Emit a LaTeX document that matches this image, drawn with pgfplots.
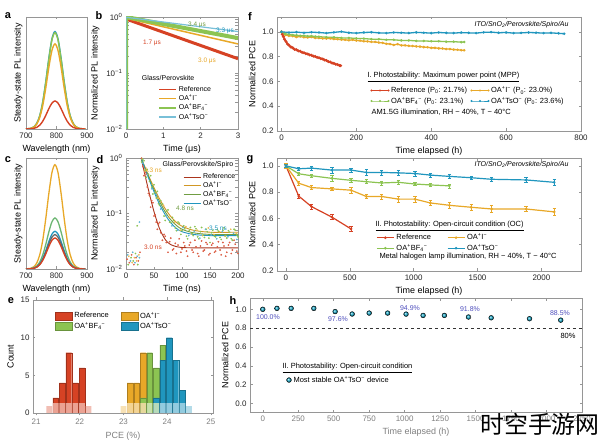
\documentclass[border=0pt]{standalone}
\usepackage{fontspec}
\setmainfont{Liberation Sans}
\newfontfamily\cjk{Noto Sans CJK SC}
\usepackage{pgfplots}
\pgfplotsset{compat=1.18}
\definecolor{cref}{RGB}{214,66,36}
\definecolor{coai}{RGB}{232,168,40}
\definecolor{cbf}{RGB}{140,196,82}
\definecolor{ctso}{RGB}{32,150,190}
\definecolor{axgray}{RGB}{150,150,150}
\definecolor{pctblue}{RGB}{80,80,190}
\newcommand\fs[1]{\fontsize{#1}{#1}\selectfont}
\newcommand\OAI{OA\textsuperscript{+}I\textsuperscript{−}}
\newcommand\OABF{OA\textsuperscript{+}BF\textsubscript{4}\textsuperscript{−}}
\newcommand\OATsO{OA\textsuperscript{+}TsO\textsuperscript{−}}
\pgfplotsset{
 base/.style={scale only axis, anchor=south west,
  axis line style={axgray, line width=0.6bp},
  tick style={axgray, line width=0.5bp}, major tick length=2.5bp, tick align=inside,
  tick label style={font=\fs{8}, text=black!85},
  label style={font=\fs{9}},
  /pgf/number format/assume math mode=true, /pgf/number format/1000 sep={},
  legend cell align=left},
 pce/.style={ytick={0.2,0.4,0.6,0.8,1.0}, yticklabel style={/pgf/number format/.cd, fixed, fixed zerofill, precision=1}},
}
\begin{document}
\begin{tikzpicture}
\path[use as bounding box, fill=white] (0,0) rectangle (600bp,443bp);

% ---------- a
\begin{axis}[base, at={(26bp,314bp)}, width=61bp, height=112bp, xmin=700, xmax=900, ymin=0, ymax=1,
  xtick={700,800,900}, ytick=\empty, xlabel={Wavelength (nm)}, ylabel={Steady-state PL intensity}]
\addplot[ctso, line width=1.4bp, smooth] coordinates {(695,0) (715,0.005) (725,0.017) (735,0.049) (745,0.117) (755,0.242) (765,0.424) (775,0.632) (785,0.803) (795,0.87) (805,0.803) (815,0.632) (825,0.424) (835,0.242) (845,0.117) (855,0.049) (865,0.017) (875,0.005) (895,0)};
\addplot[cbf, line width=1.4bp, smooth] coordinates {(695,0) (715,0.005) (725,0.017) (735,0.048) (745,0.116) (755,0.239) (765,0.419) (775,0.624) (785,0.794) (795,0.86) (805,0.794) (815,0.624) (825,0.419) (835,0.239) (845,0.116) (855,0.048) (865,0.017) (875,0.005) (895,0)};
\addplot[coai, line width=1.4bp, smooth] coordinates {(695,0) (715,0.005) (725,0.015) (735,0.043) (745,0.103) (755,0.211) (765,0.370) (775,0.552) (785,0.701) (795,0.76) (805,0.701) (815,0.552) (825,0.370) (835,0.211) (845,0.103) (855,0.043) (865,0.015) (875,0.005) (895,0)};
\addplot[cref, line width=1.4bp, smooth] coordinates {(695,0) (715,0.002) (725,0.005) (735,0.014) (745,0.034) (755,0.070) (765,0.122) (775,0.182) (785,0.231) (795,0.25) (805,0.231) (815,0.182) (825,0.122) (835,0.070) (845,0.034) (855,0.014) (865,0.005) (875,0.002) (895,0)};
\end{axis}

% ---------- b
\begin{axis}[base, at={(126bp,314bp)}, width=112bp, height=112bp, xmin=0, xmax=3, ymode=log, ymin=0.01, ymax=1,
  xtick={0,1,2,3}, ytick={0.01,0.1,1}, yticklabels={10\textsuperscript{−2},10\textsuperscript{−1},10\textsuperscript{0}},
  xlabel={Time (μs)}, ylabel={Normalized PL intensity},
  legend image code/.code={\draw[#1, line width=1.6bp] (0bp,0bp) -- (17bp,0bp);},
  legend style={at={(0.26,0.42)}, anchor=north west, draw=none, fill=none, font=\fs{7}, row sep=-2bp}]
\addplot[cref, line width=3bp] coordinates {(0,0.01) (0,0.92) (3,0.18)};
\addplot[coai, line width=1.5bp] coordinates {(0,0.01) (0,0.95) (3,0.33)};
\addplot[cbf, line width=4bp] coordinates {(0,0.01) (0,1.0) (3,0.42)};
\addplot[ctso!60!white, line width=1.2bp] coordinates {(0,0.01) (0,0.99) (3,0.55)};
\legend{Reference,\OAI,\OABF,\OATsO}
\end{axis}

% ---------- c
\begin{axis}[base, at={(26bp,174bp)}, width=61bp, height=111bp, xmin=700, xmax=900, ymin=0, ymax=1,
  xtick={700,800,900}, ytick=\empty, xlabel={Wavelength (nm)}, ylabel={Steady-state PL intensity}]
\addplot[coai, line width=1.3bp, smooth] coordinates {(695,0) (715,0.006) (725,0.019) (735,0.053) (745,0.127) (755,0.261) (765,0.458) (775,0.682) (785,0.868) (795,0.94) (805,0.868) (815,0.682) (825,0.458) (835,0.261) (845,0.127) (855,0.053) (865,0.019) (875,0.006) (895,0)};
\addplot[cbf!70!ctso, line width=1.3bp, smooth] coordinates {(695,0) (715,0.003) (725,0.009) (735,0.026) (745,0.062) (755,0.128) (765,0.224) (775,0.334) (785,0.425) (795,0.46) (805,0.425) (815,0.334) (825,0.224) (835,0.128) (845,0.062) (855,0.026) (865,0.009) (875,0.003) (895,0)};
\addplot[ctso, line width=1.3bp, smooth] coordinates {(695,0) (715,0.002) (725,0.007) (735,0.019) (745,0.046) (755,0.095) (765,0.166) (775,0.247) (785,0.314) (795,0.34) (805,0.314) (815,0.247) (825,0.166) (835,0.095) (845,0.046) (855,0.019) (865,0.007) (875,0.002) (895,0)};
\addplot[black!60, line width=1.3bp, smooth] coordinates {(695,0) (715,0.002) (725,0.006) (735,0.017) (745,0.042) (755,0.086) (765,0.151) (775,0.225) (785,0.286) (795,0.31) (805,0.286) (815,0.225) (825,0.151) (835,0.086) (845,0.042) (855,0.017) (865,0.006) (875,0.002) (895,0)};
\addplot[cref, line width=1.3bp, smooth] coordinates {(695,0) (715,0.002) (725,0.006) (735,0.016) (745,0.038) (755,0.078) (765,0.136) (775,0.203) (785,0.258) (795,0.28) (805,0.258) (815,0.203) (825,0.136) (835,0.078) (845,0.038) (855,0.016) (865,0.006) (875,0.002) (895,0)};
\end{axis}

% ---------- d
\begin{axis}[base, at={(126bp,174bp)}, width=112bp, height=111bp, xmin=0, xmax=200, ymode=log, ymin=0.01, ymax=1,
  xtick={0,50,100,150,200}, ytick={0.01,0.1,1}, yticklabels={10\textsuperscript{−2},10\textsuperscript{−1},10\textsuperscript{0}},
  xlabel={Time (ns)}, ylabel={Normalized PL intensity},
  legend image code/.code={\draw[#1, line width=1.2bp] (0bp,0bp) -- (17bp,0bp);},
  legend style={at={(0.48,0.895)}, anchor=north west, draw=none, fill=none, font=\fs{7}, row sep=-2.5bp}]
\addplot[only marks, mark=*, mark size=0.65bp, cref!85!white, forget plot] coordinates {(2,0.015) (6,0.013) (10,0.018) (14,0.012) (18,0.016) (22,0.014) (25,0.02) (28,0.99) (30,0.7) (32,0.48) (34,0.55) (36,0.51) (38,0.3) (40,0.23) (42,0.21) (44,0.13) (46,0.17) (48,0.156) (50,0.09) (52,0.094) (54,0.07) (56,0.052) (58,0.065) (60,0.069) (62,0.045) (65,0.033) (68,0.042) (70,0.039) (72,0.03) (75,0.020) (78,0.031) (80,0.036) (83,0.022) (85,0.023) (88,0.029) (90,0.019) (93,0.027) (95,0.035) (98,0.02) (100,0.023) (103,0.03) (105,0.026) (108,0.021) (110,0.017) (113,0.027) (115,0.030) (118,0.022) (120,0.020) (123,0.033) (125,0.025) (128,0.019) (130,0.017) (133,0.026) (135,0.032) (138,0.021) (140,0.022) (143,0.03) (145,0.028) (148,0.018) (150,0.019) (153,0.027) (155,0.029) (158,0.02) (160,0.021) (163,0.025) (165,0.031) (168,0.022) (170,0.018) (173,0.03) (175,0.026) (178,0.017) (180,0.020) (183,0.027) (185,0.030) (188,0.019) (190,0.022) (193,0.033) (195,0.028) (198,0.021) (200,0.019)};
\addplot[only marks, mark=*, mark size=0.65bp, coai!80!white, forget plot] coordinates {(5,0.017) (11,0.013) (15,0.016) (19,0.014) (23,0.018) (29,0.95) (37,0.6) (47,0.34) (57,0.19) (67,0.14) (77,0.085) (87,0.07) (97,0.05) (107,0.058) (117,0.043) (127,0.05) (137,0.04) (147,0.055) (157,0.042) (167,0.047) (177,0.039) (187,0.052) (197,0.044)};
\addplot[only marks, mark=*, mark size=0.65bp, cbf, forget plot] coordinates {(4,0.012) (9,0.016) (13,0.014) (17,0.019) (20,0.06) (21,0.012) (28,0.85) (30,0.95) (32,0.89) (34,0.6) (36,0.45) (38,0.62) (40,0.51) (42,0.38) (44,0.48) (46,0.3) (48,0.225) (50,0.33) (52,0.24) (54,0.19) (56,0.25) (58,0.15) (60,0.14) (62,0.17) (65,0.15) (68,0.09) (70,0.075) (72,0.11) (75,0.116) (78,0.07) (80,0.069) (83,0.085) (85,0.075) (88,0.055) (90,0.049) (93,0.07) (95,0.067) (98,0.042) (100,0.049) (103,0.06) (105,0.053) (108,0.039) (110,0.035) (113,0.05) (115,0.056) (118,0.044) (120,0.040) (123,0.058) (125,0.053) (128,0.038) (130,0.035) (133,0.047) (135,0.056) (138,0.041) (140,0.037) (143,0.052) (145,0.047) (148,0.036) (150,0.030) (153,0.045) (155,0.050) (158,0.039) (160,0.038) (163,0.051) (165,0.048) (168,0.037) (170,0.034) (173,0.05) (175,0.055) (178,0.04) (180,0.036) (183,0.049) (185,0.046) (188,0.035) (190,0.033) (193,0.052) (195,0.050) (198,0.041) (200,0.038)};
\addplot[only marks, mark=*, mark size=0.65bp, ctso!70!white, forget plot] coordinates {(3,0.018) (8,0.014) (12,0.02) (16,0.013) (20,0.017) (24,0.07) (24,0.016) (30,0.8) (38,0.5) (46,0.28) (54,0.22) (62,0.12) (72,0.09) (82,0.06) (92,0.05) (102,0.056) (112,0.040) (122,0.048) (132,0.036) (142,0.052) (152,0.041) (162,0.035) (172,0.047) (182,0.038) (192,0.044) (198,0.034)};
\addplot[cref!80!black, line width=0.9bp, smooth] coordinates {(27,1.0) (30,0.733) (35,0.441) (40,0.269) (45,0.168) (50,0.108) (55,0.074) (60,0.053) (70,0.034) (80,0.0275) (100,0.0244) (150,0.024) (200,0.024)};
\addplot[coai!90!black, line width=0.9bp, smooth] coordinates {(27,1.0) (30,0.846) (35,0.642) (40,0.49) (45,0.377) (50,0.293) (55,0.23) (60,0.183) (70,0.122) (80,0.088) (90,0.069) (100,0.059) (120,0.05) (150,0.046) (200,0.046)};
\addplot[cbf!80!black, line width=0.9bp, smooth] coordinates {(27,1.0) (30,0.836) (35,0.624) (40,0.468) (45,0.353) (50,0.270) (55,0.209) (60,0.164) (70,0.107) (80,0.077) (90,0.061) (100,0.052) (120,0.045) (150,0.042) (200,0.042)};
\addplot[ctso, line width=0.9bp, smooth] coordinates {(27,1.0) (30,0.826) (35,0.603) (40,0.443) (45,0.329) (50,0.247) (55,0.188) (60,0.146) (70,0.095) (80,0.068) (90,0.054) (100,0.047) (120,0.042) (150,0.04) (200,0.04)};
\legend{Reference,\OAI,\OABF,\OATsO}
\end{axis}

% ---------- e
\begin{axis}[base, at={(33bp,30bp)}, width=180bp, height=113bp, xmin=20.93, xmax=25.05, ymin=0, ymax=15,
  xtick={21,22,23,24,25}, ytick={0,5,10,15}, xlabel={PCE (\%)}, ylabel={Count},
  xticklabel style={text=gray}, xlabel style={text=gray},
  ybar, bar width=0.13, bar shift=0pt,
  legend image code/.code={\draw[#1] (0bp,-4bp) rectangle (17bp,4bp);},
  legend columns=2, legend style={at={(0.105,0.93)}, anchor=north west, draw=none, fill=none, font=\fs{7.5}, row sep=-1bp,
   /tikz/every even column/.append style={column sep=10bp}}]
\addplot[fill=cref, draw=cref!75!black, line width=0.3bp] coordinates {(21.45,2) (21.6,4) (21.75,8) (21.9,4) (22.05,6)};
\addplot[fill=coai, draw=coai!75!black, line width=0.3bp] coordinates {(23.15,4) (23.3,4) (23.45,8)};
\addplot[fill=cbf, draw=cbf!75!black, line width=0.3bp] coordinates {(23.45,2) (23.6,8) (23.75,6) (23.9,9)};
\addplot[fill=ctso, draw=ctso!75!black, line width=0.3bp] coordinates {(23.75,2) (23.9,7) (24.05,10) (24.2,7) (24.35,3)};
\addplot[fill=cref!40!white, draw=none, fill opacity=0.85, forget plot] coordinates {(21.3,0.9) (21.45,1.3) (21.6,1.3) (21.75,1.3) (21.9,1.3) (22.05,1.3) (22.2,0.9)};
\addplot[fill=coai!40!white, draw=none, fill opacity=0.85, forget plot] coordinates {(23.0,0.9) (23.15,1.3) (23.3,1.3) (23.45,1.3)};
\addplot[fill=cbf!40!white, draw=none, fill opacity=0.85, forget plot] coordinates {(23.6,1.3) (23.75,1.3)};
\addplot[fill=ctso!40!white, draw=none, fill opacity=0.85, forget plot] coordinates {(23.9,1.3) (24.05,1.3) (24.2,1.3) (24.35,1.3) (24.5,0.9)};
\legend{Reference,\OAI,\OABF,\OATsO}
\end{axis}

% ---------- f
\begin{axis}[base, pce, at={(277bp,312bp)}, width=304bp, height=114bp, xmin=-12, xmax=800, ymin=0.2, ymax=1.12,
  xtick={0,200,400,600,800}, xlabel={Time elapsed (h)}, ylabel={Normalized PCE},
  legend image code/.code={\draw[#1, line width=0.9bp] plot coordinates {(0bp,0bp) (8.5bp,0bp) (17bp,0bp)};},
  legend columns=2, legend style={at={(0.299,0.425)}, anchor=north west, draw=none, fill=none, font=\fs{7.5}, row sep=-1bp,
   /tikz/every even column/.append style={column sep=2bp}}]
\addplot[cref, line width=1.6bp, mark=*, mark size=0.5bp] coordinates {(0,1.0) (2,0.98) (5,0.962) (8,0.94) (12,0.922) (16,0.903) (20,0.892) (25,0.878) (30,0.871) (35,0.858) (40,0.856) (45,0.846) (50,0.843) (55,0.834) (60,0.831) (65,0.824) (70,0.821) (75,0.814) (80,0.811) (85,0.804) (90,0.801) (95,0.794) (100,0.791) (105,0.784) (110,0.781) (115,0.773) (120,0.769) (125,0.76) (130,0.757) (135,0.748) (140,0.746) (145,0.738) (150,0.736) (155,0.728) (158,0.727)};
\addplot[coai, line width=1.3bp, mark=*, mark size=0.5bp] coordinates {(0,1.0) (10,0.975) (20,0.968) (30,0.966) (40,0.958) (50,0.963) (60,0.956) (70,0.955) (80,0.958) (90,0.951) (100,0.95) (110,0.947) (120,0.946) (130,0.947) (140,0.942) (150,0.941) (160,0.937) (170,0.936) (180,0.932) (190,0.936) (200,0.93) (210,0.929) (220,0.924) (230,0.923) (240,0.919) (250,0.919) (260,0.914) (270,0.911) (280,0.904) (290,0.902) (300,0.894) (310,0.901) (320,0.891) (330,0.891) (340,0.887) (350,0.886) (360,0.883) (370,0.881) (380,0.877) (390,0.876) (400,0.871) (410,0.871) (420,0.867) (430,0.866) (440,0.861) (450,0.861) (460,0.857) (470,0.856) (480,0.852) (488,0.851)};
\addplot[cbf, line width=1.3bp, mark=*, mark size=0.5bp] coordinates {(0,1.0) (10,0.984) (20,0.979) (30,0.974) (40,0.973) (50,0.969) (60,0.969) (70,0.965) (80,0.966) (90,0.962) (100,0.961) (120,0.957) (140,0.956) (160,0.951) (180,0.951) (200,0.947) (220,0.946) (240,0.941) (260,0.941) (280,0.936) (300,0.936) (320,0.931) (340,0.931) (360,0.927) (380,0.927) (400,0.924) (420,0.924) (440,0.921) (460,0.921) (480,0.917) (488,0.918)};
\addplot[ctso, line width=1.3bp, mark=*, mark size=0.5bp] coordinates {(0,1.0) (20,0.995) (40,0.998) (60,0.993) (80,0.997) (100,0.995) (120,0.99) (140,0.996) (160,1.002) (180,0.993) (200,0.99) (220,0.995) (240,0.997) (260,0.992) (280,0.99) (300,0.995) (320,0.993) (340,0.99) (360,0.996) (380,0.993) (400,0.99) (420,0.995) (440,0.992) (460,0.99) (480,0.994) (500,0.992) (520,0.99) (540,0.996) (560,0.998) (580,0.993) (600,0.995) (620,0.99) (640,0.992) (660,0.995) (680,0.993) (700,0.99) (720,0.992) (740,0.988) (755,0.985)};
\legend{Reference (P\textsubscript{0}: 21.7\%),\OAI\ (P\textsubscript{0}: 23.0\%),\OABF\ (P\textsubscript{0}: 23.1\%),\OATsO\ (P\textsubscript{0}: 23.6\%)}
\end{axis}

% ---------- g
\begin{axis}[base, pce, at={(277bp,172bp)}, width=304bp, height=113bp, xmin=-70, xmax=2310, ymin=0.2, ymax=1.06,
  xtick={0,500,1000,1500,2000}, xlabel={Time elapsed (h)}, ylabel={Normalized PCE},
  legend columns=2, legend style={at={(0.316,0.365)}, anchor=north west, draw=none, fill=none, font=\fs{7.5}, row sep=-1bp,
   /tikz/every even column/.append style={column sep=14bp}},
  every axis plot/.append style={line width=1.2bp, mark=*, mark size=0.6bp,
   error bars/y dir=both, error bars/y explicit, error bars/error bar style={line width=0.6bp},
   error bars/error mark options={rotate=90, mark size=1.6bp, line width=0.6bp}}]
\addplot[cref] coordinates {(0,1.0) +- (0,0.015) (100,0.77) +- (0,0.015) (200,0.69) +- (0,0.02) (360,0.61) +- (0,0.02) (510,0.52) +- (0,0.02)};
\addplot[coai] coordinates {(0,1.0) +- (0,0.02) (100,0.868) +- (0,0.015) (200,0.835) +- (0,0.015) (360,0.825) +- (0,0.01) (510,0.815) +- (0,0.02) (630,0.767) +- (0,0.015) (750,0.767) +- (0,0.02) (880,0.747) +- (0,0.025) (1010,0.747) +- (0,0.025) (1130,0.718) +- (0,0.02) (1280,0.70) +- (0,0.02) (1450,0.685) +- (0,0.02) (1610,0.672) +- (0,0.025) (1880,0.672) +- (0,0.02) (2100,0.65) +- (0,0.025)};
\addplot[cbf] coordinates {(0,1.0) +- (0,0.01) (100,0.94) +- (0,0.01) (200,0.925) +- (0,0.01) (360,0.905) +- (0,0.02) (510,0.89) +- (0,0.015) (630,0.88) +- (0,0.015) (750,0.87) +- (0,0.015) (880,0.875) +- (0,0.015) (1010,0.862) +- (0,0.01) (1130,0.855) +- (0,0.01) (1280,0.848) +- (0,0.015)};
\addplot[ctso] coordinates {(0,1.0) +- (0,0.01) (100,0.978) +- (0,0.01) (200,0.983) +- (0,0.015) (360,0.968) +- (0,0.025) (510,0.968) +- (0,0.015) (630,0.95) +- (0,0.025) (750,0.95) +- (0,0.02) (880,0.947) +- (0,0.02) (1010,0.942) +- (0,0.02) (1130,0.93) +- (0,0.015) (1280,0.92) +- (0,0.015) (1450,0.91) +- (0,0.01) (1610,0.898) +- (0,0.015) (1880,0.893) +- (0,0.02) (2100,0.875) +- (0,0.02)};
\legend{Reference,\OAI,\OABF,\OATsO}
\end{axis}

% ---------- h
\begin{axis}[base, at={(250bp,31bp)}, width=332bp, height=114bp, xmin=-90, xmax=2250, ymin=-0.09, ymax=1.12,
  xtick={0,250,500,750,1000,1250,1500,1750,2000,2250}, ytick={0,0.2,0.4,0.6,0.8,1.0},
  yticklabel style={/pgf/number format/.cd, fixed, fixed zerofill, precision=1},
  xticklabel style={text=gray}, xlabel style={text=gray},
  xlabel={Time elapsed (h)}, ylabel={Normalized PCE},
  legend style={at={(0.1,0.35)}, anchor=north west, draw=none, fill=none, font=\fs{7.5}}]
\addplot[black!80, dashed, line width=1.1bp, forget plot] coordinates {(-90,0.8) (2250,0.8)};
\addplot[only marks, mark=ball, mark size=2.4bp, ball color=ctso!80!cyan] coordinates {(0,1.0) (100,1.01) (200,1.01) (360,1.01) (510,0.976) (630,0.95) (750,0.96) (880,0.96) (1010,0.949) (1130,0.935) (1280,0.935) (1450,0.918) (1610,0.91) (1880,0.90) (2100,0.885)};
\legend{Most stable \OATsO\ device}
\end{axis}

% ---------- text
\begin{scope}[x=1bp,y=-1bp,yshift=443bp]
\foreach \l/\x/\y in {a/8/16, b/99/16, c/8/160, d/100/160, e/11/301, f/250/17, g/250/160, h/233/301}
  \node[font=\fs{11}\bfseries] at (\x,\y) {\l};
\node[font=\fs{6.5}, text=cbf!80!black] at (197,25) {3.4 μs};
\node[font=\fs{6.5}, text=ctso] at (225,31) {3.3 μs};
\node[font=\fs{6.5}, text=cref] at (152,43) {1.7 μs};
\node[font=\fs{6.5}, text=coai] at (207,61) {3.0 μs};
\node[font=\fs{7}] at (168,78) {Glass/Perovskite};
\node[font=\fs{6.5}, text=coai] at (153,170) {8.3 ns};
\node[font=\fs{6.5}, text=cbf!80!black] at (185,208) {4.8 ns};
\node[font=\fs{6.5}, text=ctso] at (218,228) {3.5 ns};
\node[font=\fs{6.5}, text=cref] at (153,247) {3.0 ns};
\node[font=\fs{7}] at (198,165) {Glass/Perovskite/Spiro};
\node[font=\fs{7}\itshape, anchor=east] at (572,25) {ITO/SnO\textsubscript{2}/Perovskite/Spiro/Au};
\node[font=\fs{7.5}, anchor=west] at (364,77) {\underline{I. Photostability: Maximum power point (MPP)}};
\node[font=\fs{7.5}, anchor=west] at (368,112) {AM1.5G illumination, RH \textasciitilde\ 40\%, T \textasciitilde\ 40°C};
\node[font=\fs{7}\itshape, anchor=east] at (572,165) {ITO/SnO\textsubscript{2}/Perovskite/Spiro/Au};
\node[font=\fs{7.5}, anchor=west] at (372,226) {\underline{II. Photostability: Open-circuit condition (OC)}};
\node[font=\fs{7.5}, anchor=west] at (376,257) {Metal halogen lamp illumination, RH \textasciitilde\ 40\%, T \textasciitilde\ 40°C};
\node[font=\fs{7}, text=pctblue] at (268,317) {100.0\%};
\node[font=\fs{7}, text=pctblue] at (338,319) {97.6\%};
\node[font=\fs{7}, text=pctblue] at (410,308) {94.9\%};
\node[font=\fs{7}, text=pctblue] at (470,309) {91.8\%};
\node[font=\fs{7}, text=pctblue] at (560,313) {88.5\%};
\node[font=\fs{7.5}] at (568,336) {80\%};
\node[font=\fs{7.5}, anchor=west] at (279,368) {\underline{II. Photostability: Open-circuit condition}};
\node[font=\cjk\fs{24}] at (540,424) {时空手游网};
\end{scope}
\end{tikzpicture}
\end{document}
